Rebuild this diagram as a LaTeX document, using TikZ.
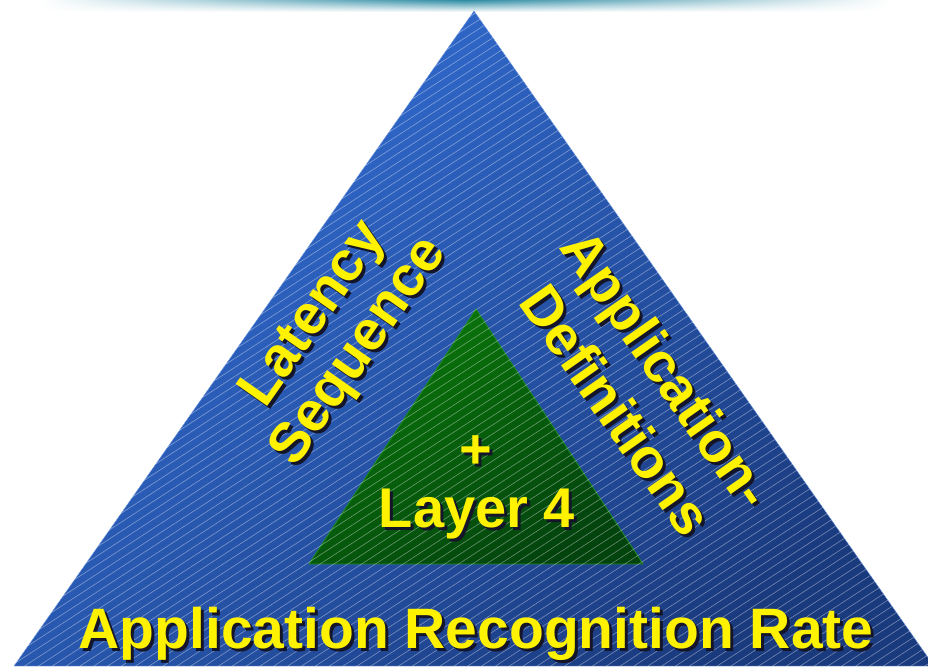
\documentclass[tikz,border=0pt]{standalone}
\usepackage{fontspec}
\setmainfont{Liberation Sans}
\usepackage{tikz}
\usetikzlibrary{fadings}
\tikzset{slogan/.style={text=yellow,font=\fontsize{56}{60}\selectfont\bfseries,inner sep=0pt,anchor=base}}
\newcommand{\shadowslogan}[4]{%
	\node[slogan,text=sloganshadow,xshift=3pt,yshift=-3pt,rotate=#3] (#1-shadow) at (#2) {#4};
	\node[slogan,rotate=#3] (#1) at (#2) {#4};
}

\begin{document}
\begin{tikzpicture}[x=1pt,y=1pt]
	\definecolor{skyblue}{HTML}{336FD6}
	\definecolor{deepblue}{HTML}{1A3A7E}
	\definecolor{leafgreen}{HTML}{0A780A}
	\definecolor{darkleaf}{HTML}{03430E}
	\definecolor{rimgreen}{HTML}{1E8E1E}
	\definecolor{barteal}{HTML}{2F8CA4}
	\definecolor{sloganshadow}{HTML}{15152A}
	
	\useasboundingbox (0,0) rectangle (928,666);
	\clip (0,0) rectangle (928,666);
	
	% top bar
	\shade[left color=white,right color=white,middle color=barteal,path fading=south] (40,654) rectangle (890,666);
	
	% triangles
	\coordinate (top) at (474,655);
	\coordinate (left) at (14,0);
	\coordinate (right) at (934,0);
	\shadedraw[top color=skyblue,middle color=skyblue,bottom color=deepblue,shading angle=40,draw=skyblue!70!white,thin] (top) -- (left) -- (right) -- cycle;
	\shadedraw[top color=leafgreen,bottom color=darkleaf,shading angle=30,draw=rimgreen,thick] (476,357) -- (309,102) -- (643,102) -- cycle;
	\begin{scope}
		\clip (top) -- (left) -- (right) -- cycle;
		\foreach \b in {-610,-601,...,670}
			\draw[white,opacity=0.4,line width=0.6pt] (0,\b) -- (928,\b+603);
	\end{scope}
	
	% labels
	\shadowslogan{latency}{326,343}{55}{Latency}
	\shadowslogan{sequence}{371,306}{55}{Sequence}
	\shadowslogan{application}{651,286}{-55}{Application-}
	\shadowslogan{definitions}{600,245}{-55}{Definitions}
	\shadowslogan{plus}{476,197}{0}{+}
	\shadowslogan{layer}{477,138}{0}{Layer 4}
	\shadowslogan{rate}{476,18}{0}{\fontsize{57}{60}\selectfont Application Recognition Rate}
\end{tikzpicture}
\end{document}
